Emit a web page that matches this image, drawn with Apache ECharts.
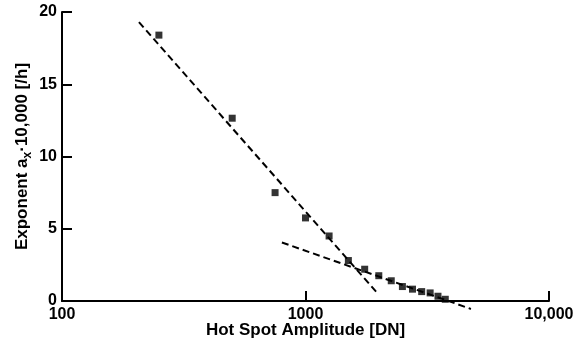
<!DOCTYPE html>
<html>
<head>
<meta charset="utf-8">
<script src="https://cdn.jsdelivr.net/npm/echarts@6/dist/echarts.min.js"></script>
<style>
  html, body { margin: 0; padding: 0; background: #fff; }
  #chart { width: 582px; height: 346px; }
</style>
</head>
<body>
<div id="chart"></div>
<script>
// measured hot spot data
var amplitude = [250, 500, 750, 1000, 1250, 1500, 1750, 2000, 2250, 2500, 2750, 3000, 3250, 3500, 3750];
var exponent = [18.4, 12.65, 7.5, 5.75, 4.5, 2.8, 2.2, 1.75, 1.4, 1.0, 0.82, 0.65, 0.56, 0.33, 0.12];

// the two dashed fit lines (end points)
var steepFitX = [207, 1984];
var steepFitY = [19.3, 0.5];
var flatFitX = [800, 4780];
var flatFitY = [4.05, -0.55];

var xTickLabels = { 100: '100', 1000: '1000', 10000: '10,000' };
var yTicks = [0, 5, 10, 15, 20];

var font = "'Liberation Sans', Arial, sans-serif";
var ink = '#000';

function pairs(xs, ys) {
  return xs.map(function (x, i) { return [x, ys[i]]; });
}

var chart = echarts.init(document.getElementById('chart'));

var dashed = {
  color: ink,
  width: 2,
  type: [7, 4]
};

function axisLine() {
  return { show: true, lineStyle: { color: ink, width: 2 } };
}
function axisTick() {
  return { show: true, inside: true, length: 10, lineStyle: { color: ink, width: 2 } };
}

chart.setOption({
  animation: false,
  grid: {
    left: 62,
    right: 33,
    top: 12,
    bottom: 45,
    outerBoundsMode: 'none'
  },
  xAxis: {
    type: 'log',
    logBase: 10,
    min: 100,
    max: 10000,
    name: 'Hot Spot Amplitude [DN]',
    nameLocation: 'middle',
    nameGap: 21,
    nameMoveOverlap: false,
    nameTextStyle: {
      color: ink,
      fontFamily: font,
      fontWeight: 'bold',
      fontSize: 17
    },
    axisLine: axisLine(),
    axisTick: axisTick(),
    splitLine: { show: false },
    axisLabel: {
      color: ink,
      fontFamily: font,
      fontWeight: 'bold',
      fontSize: 16,
      margin: 6,
      formatter: function (v) { return xTickLabels[Math.round(v)] || ''; }
    }
  },
  yAxis: {
    type: 'value',
    min: yTicks[0],
    max: yTicks[yTicks.length - 1],
    interval: 5,
    name: '{t|Exponent a}{s|x}{t|\u00b710,000 [/h]}',
    nameLocation: 'middle',
    nameGap: 28,
    nameMoveOverlap: false,
    nameRotate: 90,
    nameTextStyle: {
      rich: {
        t: {
          color: ink,
          fontFamily: font,
          fontWeight: 'bold',
          fontSize: 17,
          lineHeight: 24
        },
        s: {
          color: ink,
          fontFamily: font,
          fontWeight: 'bold',
          fontSize: 12,
          lineHeight: 12,
          verticalAlign: 'bottom'
        }
      }
    },
    axisLine: axisLine(),
    axisTick: axisTick(),
    splitLine: { show: false },
    axisLabel: {
      color: ink,
      fontFamily: font,
      fontWeight: 'bold',
      fontSize: 16,
      margin: 5
    }
  },
  series: [
    {
      type: 'line',
      data: pairs(steepFitX, steepFitY),
      symbol: 'none',
      clip: false,
      lineStyle: dashed
    },
    {
      type: 'line',
      data: pairs(flatFitX, flatFitY),
      symbol: 'none',
      clip: false,
      lineStyle: dashed
    },
    {
      type: 'scatter',
      data: pairs(amplitude, exponent),
      symbol: 'rect',
      symbolSize: 7,
      itemStyle: { color: ink }
    }
  ]
});
</script>
</body>
</html>
